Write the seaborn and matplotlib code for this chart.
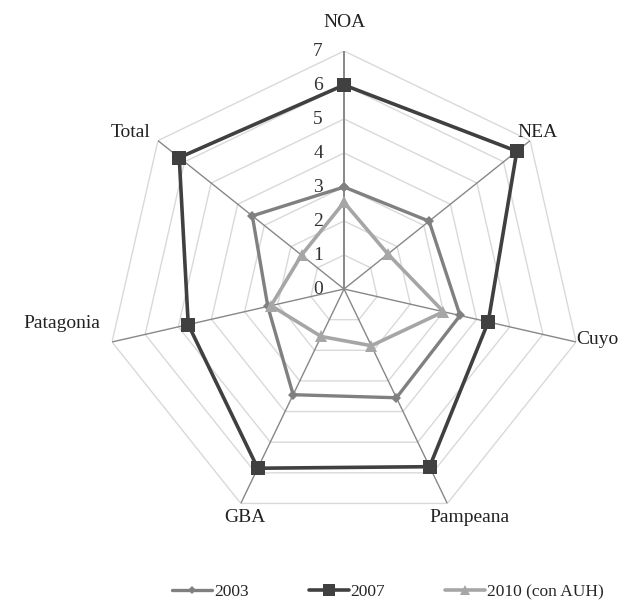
import numpy as np
import pandas as pd
import matplotlib
matplotlib.use("Agg")
import matplotlib.pyplot as plt
import seaborn as sns

# Regions and indicator values per year
regions = ["NOA", "NEA", "Cuyo", "Pampeana", "GBA", "Patagonia", "Total"]
v2003 = [3.0, 3.2, 3.5, 3.55, 3.45, 2.3, 3.45]
v2007 = [6.0, 6.5, 4.35, 5.8, 5.85, 4.7, 6.2]
v2010 = [2.55, 1.65, 3.0, 1.85, 1.55, 2.2, 1.6]
series_names = ["2003", "2007", "2010 (con AUH)"]
r_ticks = [0, 1, 2, 3, 4, 5, 6, 7]

sns.set_style("white")
plt.rcParams["font.family"] = ["Liberation Serif", "DejaVu Serif"]

n = len(regions)
angles = np.linspace(0, 2 * np.pi, n, endpoint=False)
closed = np.append(angles, angles[0])

fig = plt.figure(figsize=(6.39, 6.03), dpi=100)
ax = fig.add_axes([0.1659, 0.126, 0.745, 0.7894], projection="polar")
ax.set_theta_zero_location("N")
ax.set_theta_direction(-1)
ax.set_ylim(0, 7)
ax.grid(False)
ax.set_xticks([])
ax.set_yticks([])
ax.spines["polar"].set_visible(False)
ax.patch.set_alpha(0)

# heptagonal rings and spokes
for r in r_ticks[1:]:
    ax.plot(closed, [r] * (n + 1), color="#d9d9d9", lw=1.0, zorder=1)
for i, a in enumerate(angles):
    ax.plot([a, a], [0, 7], color="#878787", lw=1.4 if i == 0 else 1.0, zorder=2)

rows = []
for name, vals in zip(series_names, [v2003, v2007, v2010]):
    for a, v in zip(closed, vals + vals[:1]):
        rows.append({"serie": name, "theta": a, "valor": v})
df = pd.DataFrame(rows)

styles = {
    "2003": dict(color="#808080", marker="D", ms=5, lw=2.4),
    "2007": dict(color="#404040", marker="s", ms=10, lw=2.6),
    "2010 (con AUH)": dict(color="#a6a6a6", marker="^", ms=9, lw=2.6),
}
for name in series_names:
    st = styles[name]
    sns.lineplot(data=df[df["serie"] == name], x="theta", y="valor", sort=False,
                 estimator=None, ax=ax, color=st["color"], marker=st["marker"],
                 markersize=st["ms"], markeredgewidth=0, linewidth=st["lw"],
                 label=name, zorder=3)
ax.set_xlabel("")
ax.set_ylabel("")
ax.get_legend().remove()

# value labels along the NOA axis
for r in r_ticks:
    ax.annotate(str(r), xy=(0, r), xytext=(-26, 0), textcoords="offset pixels",
                ha="center", va="center", fontsize=14, color="#333333")

# region labels
label_pos = {
    "NOA": ((0, 29), "center", "center"),
    "NEA": ((7, 8), "center", "center"),
    "Cuyo": ((0, 2), "left", "center"),
    "Pampeana": ((22, -14), "center", "center"),
    "GBA": ((4, -14), "center", "center"),
    "Patagonia": ((-12, 18), "right", "center"),
    "Total": ((-8, 8), "right", "center"),
}
for a, reg in zip(angles, regions):
    off, ha, va = label_pos[reg]
    ax.annotate(reg, xy=(a, 7), xytext=off, textcoords="offset pixels",
                ha=ha, va=va, fontsize=14, color="#222222")

handles, labels = [], []
for name in series_names:
    st = styles[name]
    h = plt.Line2D([], [], color=st["color"], marker=st["marker"],
                   markersize=st["ms"] * 0.8, markeredgewidth=0, lw=st["lw"])
    handles.append(h)
    labels.append(name)
fig.legend(handles, labels, loc="center", bbox_to_anchor=(0.607, 0.018),
           ncol=3, frameon=False, fontsize=12.5, handlelength=2.3,
           handletextpad=0.1, columnspacing=3.45)

fig.savefig("out.png", dpi=100)
